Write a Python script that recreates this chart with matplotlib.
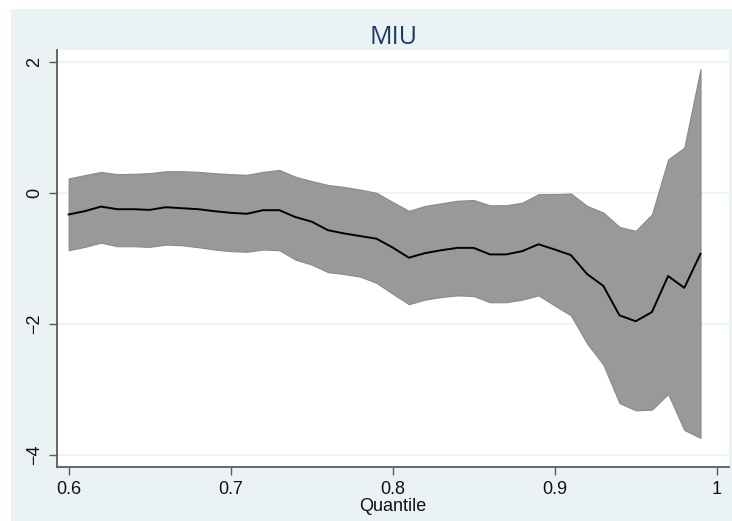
import matplotlib
matplotlib.use("Agg")
import matplotlib.pyplot as plt
from matplotlib.patches import Rectangle

quantiles = [round(0.60 + 0.01 * i, 2) for i in range(40)]
coef = [-0.33, -0.28, -0.21, -0.25, -0.25, -0.26, -0.22, -0.235, -0.25, -0.28,
        -0.305, -0.32, -0.265, -0.265, -0.37, -0.44, -0.57, -0.62, -0.66, -0.70,
        -0.835, -0.99, -0.92, -0.876, -0.84, -0.84, -0.94, -0.94, -0.89, -0.785,
        -0.865, -0.95, -1.24, -1.42, -1.87, -1.96, -1.82, -1.27, -1.45, -0.93]
upper = [0.22, 0.27, 0.32, 0.285, 0.29, 0.30, 0.33, 0.33, 0.32, 0.30,
         0.285, 0.275, 0.32, 0.35, 0.245, 0.18, 0.12, 0.09, 0.05, 0.0,
         -0.14, -0.275, -0.20, -0.16, -0.12, -0.11, -0.19, -0.19, -0.15, -0.02,
         -0.02, -0.01, -0.20, -0.30, -0.52, -0.58, -0.33, 0.51, 0.69, 1.89]
lower = [-0.876, -0.825, -0.76, -0.815, -0.815, -0.825, -0.79, -0.80, -0.83, -0.865,
         -0.89, -0.90, -0.865, -0.876, -1.02, -1.095, -1.21, -1.24, -1.28, -1.375,
         -1.54, -1.70, -1.63, -1.59, -1.565, -1.575, -1.67, -1.67, -1.63, -1.565,
         -1.72, -1.87, -2.30, -2.62, -3.21, -3.32, -3.31, -3.07, -3.62, -3.74]
xticks = [0.6, 0.7, 0.8, 0.9, 1.0]
xticklabels = ["0.6", "0.7", "0.8", "0.9", "1"]
yticks = [-4, -2, 0, 2]
yticklabels = ["\u22124", "\u22122", "0", "2"]
title = "MIU"
xlabel = "Quantile"

W, H = 732, 521
bg = "#EAF2F3"
fig = plt.figure(figsize=(W / 100, H / 100), dpi=100)
fig.patch.set_facecolor("white")
fig.patches.append(Rectangle((11 / W, 0), 1 - 11 / W, 1 - 9 / H,
                             transform=fig.transFigure, facecolor=bg,
                             edgecolor="none", zorder=-10))

left, right, top, bottom = 57.3, 728.7, 50, 466.7
ax = fig.add_axes([left / W, 1 - bottom / H, (right - left) / W, (bottom - top) / H])
ax.set_facecolor("white")

ax.fill_between(quantiles, lower, upper, facecolor="#999999",
                edgecolor="#8a8a8a", linewidth=0.8, zorder=2)
ax.plot(quantiles, coef, color="black", linewidth=1.4, zorder=3)

ax.set_xlim(0.593, 1.0074)
ax.set_ylim(-4.18, 2.18)
ax.set_xticks(xticks)
ax.set_xticklabels(xticklabels)
ax.set_yticks(yticks)
ax.set_yticklabels(yticklabels, rotation=90, va="center")

ax.yaxis.grid(True, color=bg, linewidth=1.2, zorder=0)
ax.xaxis.grid(False)
ax.set_axisbelow(True)

for s in ["top", "right"]:
    ax.spines[s].set_visible(False)
for s in ["left", "bottom"]:
    ax.spines[s].set_color("#5a5a5a")
    ax.spines[s].set_linewidth(1.3)

font = "Liberation Sans"
ax.tick_params(axis="both", length=6, width=1, color="#5a5a5a",
               labelsize=13, labelcolor="#111111", pad=4)
for lab in ax.get_xticklabels() + ax.get_yticklabels():
    lab.set_fontfamily(font)

ax.set_title(title, fontsize=18, color="#1a3a66", family="Open Sans", pad=4)
ax.set_xlabel(xlabel, fontsize=13, family=font, color="#111111", labelpad=0)

fig.savefig("out.png", dpi=100, facecolor=fig.get_facecolor())
